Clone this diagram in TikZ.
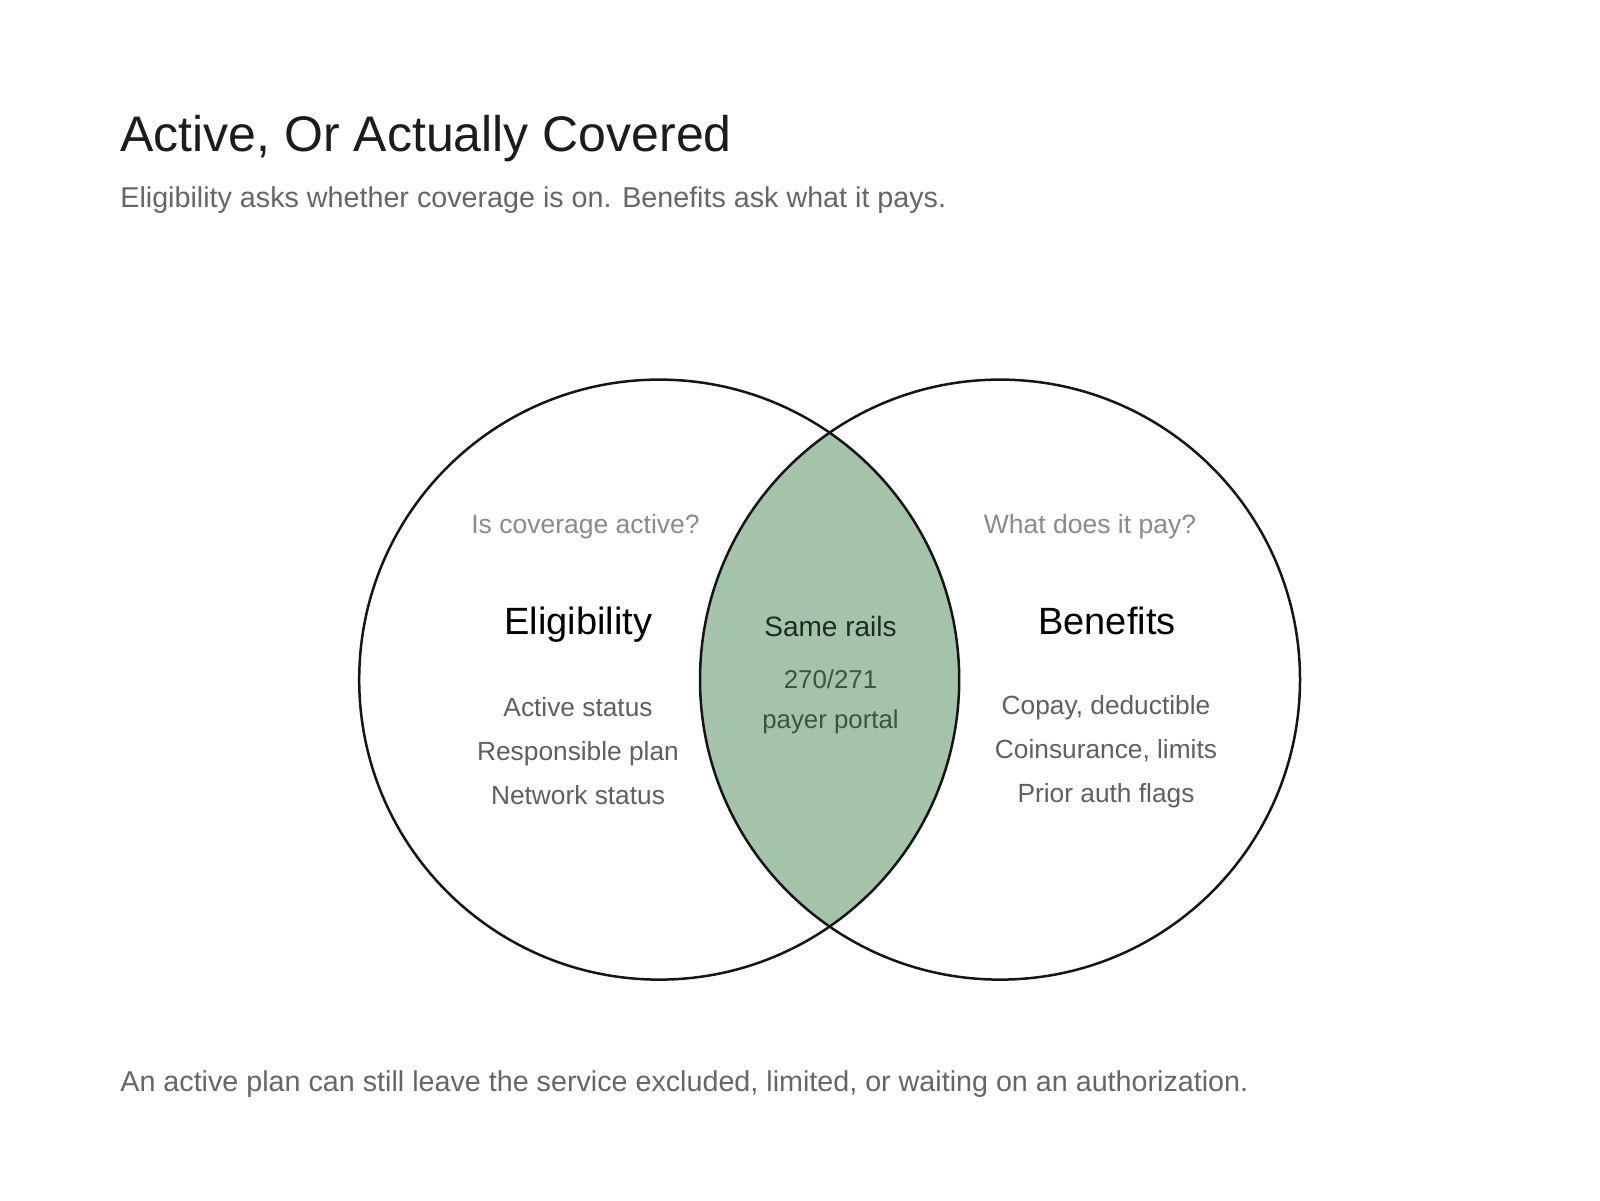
\documentclass[tikz,border=0pt]{standalone}
\usepackage{fontspec}
\setmainfont{Liberation Sans}
\definecolor{titlec}{HTML}{1C1C1C}
\definecolor{subc}{HTML}{666666}
\definecolor{qc}{HTML}{8A8A8A}
\definecolor{itemc}{HTML}{5F5F5F}
\definecolor{lensfill}{HTML}{A3C4A9}
\definecolor{lenstitle}{HTML}{1F2B22}
\definecolor{lensitem}{HTML}{3B5540}
\definecolor{strokec}{HTML}{151515}
\tikzset{
  txt/.style={inner sep=0pt, outer sep=0pt},
  ttl/.style={txt, anchor=base west, text=titlec, font=\fontsize{50}{60}\selectfont},
  sub/.style={txt, anchor=base west, text=subc, font=\fontsize{28.7}{34}\selectfont},
  ques/.style={txt, anchor=base, text=qc, font=\fontsize{26.5}{31}\selectfont},
  head/.style={txt, anchor=base, text=black, font=\fontsize{38}{45}\selectfont},
  itm/.style={txt, anchor=base, text=itemc, font=\fontsize{26.3}{31}\selectfont},
  lhead/.style={txt, anchor=base, text=lenstitle, font=\fontsize{28}{33}\selectfont},
  litm/.style={txt, anchor=base, text=lensitem, font=\fontsize{25.8}{30}\selectfont},
  ring/.style={draw=strokec, line width=2.5pt}
}
\begin{document}
\begin{tikzpicture}[x=1pt, y=-1pt]
\useasboundingbox[fill=white] (0,0) rectangle (1600,1200);
\coordinate (cl) at (659.2,679.6);
\coordinate (cr) at (1000,679.6);
% lens
\begin{scope}
  \clip (cl) circle (300);
  \fill[lensfill] (cr) circle (300);
\end{scope}
\draw[ring] (cl) circle (300);
\draw[ring] (cr) circle (300);
% title
\node[ttl] (title) at (120.4,151) {Active, Or Actually Covered};
\node[sub] (subtitle) at (120.4,207) {Eligibility asks whether coverage is on. Benefits ask what it pays.};
% left
\node[ques] (q1) at (585.5,533) {Is coverage active?};
\node[head] (h1) at (578.5,634) {Eligibility};
\node[itm] (l1) at (578,716) {Active status};
\node[itm] (l2) at (578,760) {Responsible plan};
\node[itm] (l3) at (578,804) {Network status};
% middle
\node[lhead] (mh) at (830.5,636) {Same rails};
\node[litm] (m1) at (830.5,688) {270/271};
\node[litm] (m2) at (830.5,728) {payer portal};
% right
\node[ques] (q2) at (1090,533) {What does it pay?};
\node[head] (h2) at (1107,634) {Benefits};
\node[itm] (r1) at (1106,714) {Copay, deductible};
\node[itm] (r2) at (1106,758) {Coinsurance, limits};
\node[itm] (r3) at (1106,802) {Prior auth flags};
% footer
\node[sub] (foot) at (120.4,1091) {An active plan can still leave the service excluded, limited, or waiting on an authorization.};
\end{tikzpicture}
\end{document}
